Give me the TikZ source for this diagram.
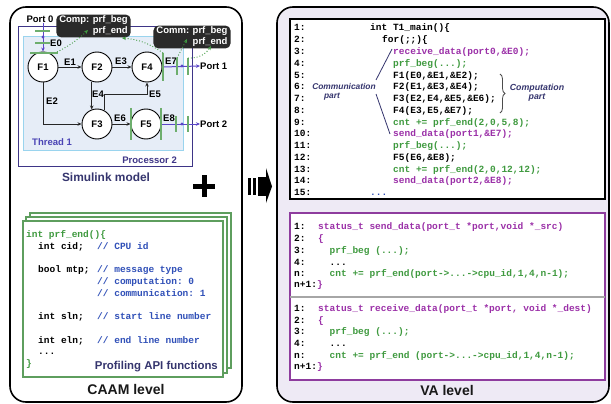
\documentclass[tikz,border=0pt]{standalone}
\usepackage{fontspec}
\setmainfont{Liberation Sans}
\setmonofont{Liberation Mono}
\usetikzlibrary{arrows.meta,calc,decorations.pathreplacing}
\definecolor{cgreen}{HTML}{3F9A3F}
\definecolor{cpurple}{HTML}{9B30A8}
\definecolor{cblue}{HTML}{3050B8}
\definecolor{navy}{HTML}{35356E}
\definecolor{procc}{HTML}{3E3587}
\definecolor{thrtext}{HTML}{4B45B5}
\definecolor{thrfill}{HTML}{E6EDF7}
\definecolor{thrline}{HTML}{9AD4EE}
\definecolor{lav}{HTML}{EEEAF5}
\definecolor{callbg}{HTML}{2A2A2A}
\definecolor{tickg}{HTML}{6DAE6D}
\definecolor{portc}{HTML}{5B45C8}
\definecolor{boxg}{HTML}{5E9E5E}
\definecolor{boxp}{HTML}{8E3C9E}
\newcommand\codeln[5]{\node[code,text=#4] (#1) at (#2,#3) {#5};}
\begin{document}
\begin{tikzpicture}[x=1pt,y=-1pt,
  code/.style={font=\ttfamily\bfseries\fontsize{9.5}{11}\selectfont, inner sep=0pt, anchor=base west},
  lbl/.style={font=\bfseries\fontsize{9.5}{11}\selectfont, inner sep=0pt},
  fn/.style={circle, draw=black, line width=0.9pt, fill=white, minimum size=30pt, inner sep=0pt, font=\bfseries\fontsize{9.5}{11}\selectfont},
  edge/.style={draw=black!85, line width=0.8pt, -{Stealth[length=4pt,width=3.5pt]}},
  portarr/.style={draw=portc, line width=1pt, -{Stealth[length=4pt,width=3.5pt]}},
  tick/.style={draw=tickg, line width=1.2pt},
  dotarr/.style={draw=cgreen, dotted, line width=0.9pt, -{Stealth[length=4pt,width=3.5pt]}},
  callout/.style={fill=callbg, rounded corners=5pt, text=white, align=right, inner xsep=3pt, inner ysep=1.5pt, font=\bfseries\fontsize{9.5}{11}\selectfont},
  panel/.style={draw=black, line width=1.6pt, rounded corners=16pt},
  big/.style={font=\bfseries\fontsize{14}{16}\selectfont, inner sep=0pt, anchor=base, text=black!90}
]
\useasboundingbox (0,0) rectangle (611,404);
% panels
\draw[panel, fill=white] (10,7) rectangle (242,402);
\draw[panel, fill=lav] (277,7) rectangle (609,402);
% processor / thread
\draw[procc, line width=1pt] (18,27) rectangle (192,166);
\draw[thrline, fill=thrfill, line width=1pt] (23,37) rectangle (183,150);
\node[lbl, text=procc, anchor=base east] (proc) at (177,163) {Processor 2};
\node[lbl, text=thrtext, anchor=base west] (thr) at (32,146) {Thread 1};
\node[lbl, text=navy, anchor=base, font=\bfseries\fontsize{11.9}{13}\selectfont] (sim) at (106,181) {Simulink model};
% function nodes
\node[fn] (F1) at (43,67) {F1};
\node[fn] (F2) at (97,67) {F2};
\node[fn] (F4) at (147,67) {F4};
\node[fn] (F3) at (97,124) {F3};
\node[fn] (F5) at (146,124) {F5};
% ports
\node[lbl] (P0) at (40,19) {Port 0};
\node[lbl, anchor=west] (P1) at (200,66) {Port 1};
\node[lbl, anchor=west] (P2) at (200,124) {Port 2};
% edges
\draw[edge] (F1) -- (F2);
\draw[edge] (F2) -- (F4);
\draw[edge] (F1.south) |- (F3.west);
\draw[edge] (F2.250) -- (F3.110);
\coordinate (e4) at (104,94);
\draw[edge] (F3.62) |- (F4.south |- e4) -- (F4.south);
\draw[edge] (F3) -- (F5);
\draw[portarr] (F1.north |- P0.south) -- (F1.north);
\draw[portarr] (F4.east) -- (P1.west);
\draw[portarr] (F5.east) -- (P2.west);
% edge labels
\node[lbl] (lE0) at (56,43) {E0};
\node[lbl] (lE1) at (70,62) {E1};
\node[lbl] (lE3) at (121,61) {E3};
\node[lbl] (lE2) at (52,101) {E2};
\node[lbl] (lE4) at (98,94) {E4};
\node[lbl] (lE5) at (155,94) {E5};
\node[lbl] (lE6) at (120,118) {E6};
\node[lbl] (lE7) at (171,61) {E7};
\node[lbl] (lE8) at (169,118) {E8};
% ticks
\draw[tick] (35,31) -- (50,31);
\draw[tick] (35,43) -- (50,43);
\draw[tick] (30,53) -- (58,53);
\draw[tick] (163,53) -- (163,81);
\draw[tick] (177,58) -- (177,75);
\draw[tick] (188,58) -- (188,75);
\draw[tick] (131,108) -- (131,140);
\draw[tick] (161,108) -- (161,140);
\draw[tick] (176,116) -- (176,132);
\draw[tick] (188,116) -- (188,132);
\fill[portc] (43,37) circle (1.6pt) (182,66) circle (1.6pt) (182,124) circle (1.6pt);
% callouts
\node[callout] (comp) at (93.5,26) {Comp: prf\_beg\\prf\_end};
\node[callout] (comm) at (192,37) {Comm: prf\_beg\\prf\_end};
\coordinate (d1s) at (57,52);
\coordinate (d1e) at (88,30);
\coordinate (d2s) at (163,53);
\coordinate (d2e) at (122,38);
\coordinate (d3s) at (177,58);
\coordinate (d3e) at (187,39);
\coordinate (d4s) at (188,58);
\coordinate (d4e) at (211,46);
\draw[dotarr] (d1s) to[bend right=8] (d1e);
\draw[dotarr] (d2s) to[bend right=15] (d2e);
\draw[dotarr] (d3s) -- (d3e);
\draw[dotarr] (d4s) to[bend right=30] (d4e);
% plus and arrow
\draw[line width=5pt] (193,186) -- (215,186);
\draw[line width=5pt] (204,175) -- (204,197);
\fill (248,178) rectangle (251,195);
\fill (252.5,178) rectangle (256,195);
\fill (258,177) rectangle (267,196);
\fill (266,168) -- (272,186.5) -- (266,203) -- cycle;
% profiling API boxes
\draw[boxg, line width=1.1pt, fill=white] (30,213) rectangle (231,368);
\draw[boxg, line width=1.1pt, fill=white] (26,217) rectangle (227,373);
\draw[boxg, line width=1.1pt, fill=white] (23,221) rectangle (223,377);
\codeln{a1}{26}{237}{cgreen}{int prf\_end()\{}
\codeln{a2}{38}{249}{black}{int cid;}
\codeln{a2c}{97}{249}{cblue}{// CPU id}
\codeln{a3}{38}{272}{black}{bool mtp;}
\codeln{a3c}{97}{272}{cblue}{// message type}
\codeln{a4c}{97}{284}{cblue}{// computation: 0}
\codeln{a5c}{97}{296}{cblue}{// communication: 1}
\codeln{a6}{38}{319}{black}{int sln;}
\codeln{a6c}{97}{319}{cblue}{// start line number}
\codeln{a7}{38}{343}{black}{int eln;}
\codeln{a7c}{97}{343}{cblue}{// end line number}
\codeln{a8}{38}{354}{black}{...}
\codeln{a9}{26}{366}{cgreen}{\}}
\node[lbl, text=navy, anchor=base east, font=\bfseries\fontsize{11.4}{13}\selectfont] (api) at (218,369) {Profiling API functions};
\node[big] (caam) at (126,394) {CAAM level};
% right: main code box
\draw[black, line width=1.2pt, fill=white] (290,19) rectangle (605,199);
\foreach \i in {1,...,15} {\node[code] (n\i) at (294,{31+11.75*(\i-1)}) {\i:};}
\codeln{t1}{370}{31}{black}{int T1\_main()\{}
\codeln{t2}{382}{42.75}{black}{for(;;)\{}
\codeln{t3}{393}{54.5}{cpurple}{receive\_data(port0,\&E0);}
\codeln{t4}{393}{66.25}{cgreen}{prf\_beg(...);}
\codeln{t5}{393}{78}{black}{F1(E0,\&E1,\&E2);}
\codeln{t6}{393}{89.75}{black}{F2(E1,\&E3,\&E4);}
\codeln{t7}{393}{101.5}{black}{F3(E2,E4,\&E5,\&E6);}
\codeln{t8}{393}{113.25}{black}{F4(E3,E5,\&E7);}
\codeln{t9}{393}{125}{cgreen}{cnt += prf\_end(2,0,5,8);}
\codeln{t10}{393}{136.75}{cpurple}{send\_data(port1,\&E7);}
\codeln{t11}{393}{148.5}{cgreen}{prf\_beg(...);}
\codeln{t12}{393}{160.25}{black}{F5(E6,\&E8);}
\codeln{t13}{393}{172}{cgreen}{cnt += prf\_end(2,0,12,12);}
\codeln{t14}{393}{183.75}{cpurple}{send\_data(port2,\&E8);}
\codeln{t15}{370}{195.5}{cblue}{...}
% communication / computation annotations
\node[lbl, text=navy, font=\bfseries\itshape\fontsize{8.4}{10}\selectfont] (commA) at (344,86) {Communication};
\node[lbl, text=navy, font=\bfseries\itshape\fontsize{8.4}{10}\selectfont] (commB) at (332,97) {part};
\coordinate (ca1) at (376,80);
\coordinate (ca2) at (392,49);
\coordinate (cb1) at (376,94);
\coordinate (cb2) at (390,134);
\draw[navy, line width=0.8pt] (ca1) -- (ca2);
\draw[navy, line width=0.8pt] (cb1) -- (cb2);
\draw[black!70, line width=0.8pt, decorate, decoration={brace, amplitude=5pt}] (500,74) -- (500,113);
\node[lbl, text=navy, font=\bfseries\itshape\fontsize{8.8}{10}\selectfont] (compA) at (537,88) {Computation};
\node[lbl, text=navy, font=\bfseries\itshape\fontsize{8.8}{10}\selectfont] (compB) at (537,98) {part};
% right: API code box
\draw[boxp, line width=1.2pt, fill=white] (290,213) rectangle (605,380);
\draw[black!35, line width=2pt] (290,297) -- (605,297);
\codeln{s1n}{294}{229}{black}{1:}
\codeln{s2n}{294}{241}{black}{2:}
\codeln{s3n}{294}{253}{black}{3:}
\codeln{s4n}{294}{265}{black}{4:}
\codeln{s5n}{294}{276}{black}{n:}
\codeln{s6n}{294}{287}{black}{n+1:}
\codeln{s1}{318}{229}{cpurple}{status\_t send\_data(port\_t *port,void *\_src)}
\codeln{s2}{318}{241}{cpurple}{\{}
\codeln{s3}{329.5}{253}{cgreen}{prf\_beg (...);}
\codeln{s4}{329.5}{265}{black}{...}
\codeln{s5}{329.5}{276}{cgreen}{cnt += prf\_end(port->...->cpu\_id,1,4,n-1);}
\codeln{s6}{317}{287}{cpurple}{\}}
\codeln{r1n}{294}{311}{black}{1:}
\codeln{r2n}{294}{323}{black}{2:}
\codeln{r3n}{294}{334}{black}{3:}
\codeln{r4n}{294}{346}{black}{4:}
\codeln{r5n}{294}{358}{black}{n:}
\codeln{r6n}{294}{369}{black}{n+1:}
\codeln{r1}{318}{311}{cpurple}{status\_t receive\_data(port\_t *port, void *\_dest)}
\codeln{r2}{318}{323}{cpurple}{\{}
\codeln{r3}{329.5}{334}{cgreen}{prf\_beg (...);}
\codeln{r4}{329.5}{346}{black}{...}
\codeln{r5}{329.5}{358}{cgreen}{cnt += prf\_end (port->...->cpu\_id,1,4,n-1);}
\codeln{r6}{317}{369}{cpurple}{\}}
\node[big] (va) at (447,395) {VA level};
\end{tikzpicture}
\end{document}
